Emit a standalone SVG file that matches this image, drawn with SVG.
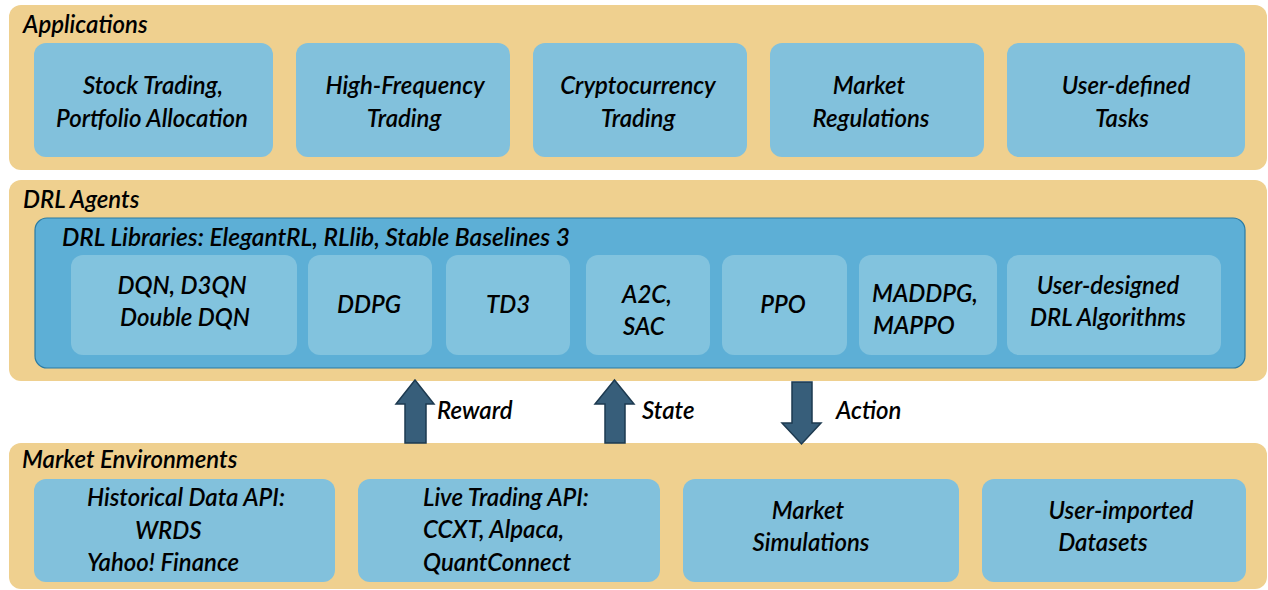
<svg xmlns="http://www.w3.org/2000/svg" width="1268" height="590" viewBox="0 0 1268 590">
<defs>
<style>
.panel{fill:#EFD08F;}
.box{fill:#82C1DC;}
.lib{fill:#5DAFD6;stroke:#2B7BA3;stroke-width:1.2;}
.alg{fill:#82C3DE;}
.arrow{fill:#375E7A;stroke:#1D3A50;stroke-width:1.5;stroke-linejoin:miter;}
text{font-family:Lato,"Noto Sans","Liberation Sans",sans-serif;font-style:italic;font-weight:600;font-size:24px;fill:#000;}
.c{text-anchor:middle;}
</style>
</defs>
<rect width="1268" height="590" fill="#fff"/>

<g id="applications">
<rect class="panel" x="9" y="5" width="1258" height="165" rx="12"/>
<text x="23" y="33">Applications</text>
</g>
<g id="app-stock">
<rect class="box" x="34" y="43" width="239" height="114" rx="12"/>
<text class="c" x="153" y="94">Stock Trading,</text>
<text class="c" x="152" y="127">Portfolio Allocation</text>
</g>
<g id="app-hft">
<rect class="box" x="296" y="43" width="214" height="114" rx="12"/>
<text class="c" x="405" y="94">High-Frequency</text>
<text class="c" x="404" y="127">Trading</text>
</g>
<g id="app-crypto">
<rect class="box" x="533" y="43" width="214" height="114" rx="12"/>
<text class="c" x="638" y="94">Cryptocurrency</text>
<text class="c" x="638" y="127">Trading</text>
</g>
<g id="app-reg">
<rect class="box" x="770" y="43" width="214" height="114" rx="12"/>
<text class="c" x="869" y="94">Market</text>
<text class="c" x="871" y="127">Regulations</text>
</g>
<g id="app-user">
<rect class="box" x="1007" y="43" width="238" height="114" rx="12"/>
<text class="c" x="1126" y="94">User-defined</text>
<text class="c" x="1122" y="127">Tasks</text>
</g>

<g id="drl-agents">
<rect class="panel" x="9" y="180" width="1258" height="201" rx="12"/>
<text x="23" y="208">DRL Agents</text>
</g>
<g id="drl-libraries">
<rect class="lib" x="35" y="218" width="1210" height="150" rx="12"/>
<text x="62" y="246" textLength="508" lengthAdjust="spacingAndGlyphs">DRL Libraries: ElegantRL, RLlib, Stable Baselines 3</text>
</g>
<g id="alg-dqn">
<rect class="alg" x="71" y="255" width="226" height="100" rx="12"/>
<text class="c" x="182" y="294">DQN, D3QN</text>
<text class="c" x="185" y="326">Double DQN</text>
</g>
<g id="alg-ddpg">
<rect class="alg" x="308" y="255" width="124" height="100" rx="12"/>
<text class="c" x="369" y="313">DDPG</text>
</g>
<g id="alg-td3">
<rect class="alg" x="446" y="255" width="124" height="100" rx="12"/>
<text class="c" x="508" y="313">TD3</text>
</g>
<g id="alg-a2c">
<rect class="alg" x="586" y="255" width="124" height="100" rx="12"/>
<text x="622" y="303">A2C,</text>
<text x="623" y="335">SAC</text>
</g>
<g id="alg-ppo">
<rect class="alg" x="722" y="255" width="125" height="100" rx="12"/>
<text class="c" x="783" y="313">PPO</text>
</g>
<g id="alg-ma">
<rect class="alg" x="859" y="255" width="138" height="100" rx="12"/>
<text x="872" y="302">MADDPG,</text>
<text x="873" y="334">MAPPO</text>
</g>
<g id="alg-user">
<rect class="alg" x="1007" y="255" width="214" height="100" rx="12"/>
<text class="c" x="1108" y="294">User-designed</text>
<text class="c" x="1108" y="326">DRL Algorithms</text>
</g>

<g id="market-environments">
<rect class="panel" x="9" y="443" width="1258" height="146" rx="12"/>
<text x="22" y="468">Market Environments</text>
</g>
<g id="env-hist">
<rect class="box" x="34" y="479" width="301" height="103" rx="12"/>
<text x="87" y="506">Historical Data API:</text>
<text x="135" y="539">WRDS</text>
<text x="87" y="571">Yahoo! Finance</text>
</g>
<g id="env-live">
<rect class="box" x="358" y="479" width="302" height="103" rx="12"/>
<text x="423" y="506">Live Trading API:</text>
<text x="423" y="538">CCXT, Alpaca,</text>
<text x="423" y="571">QuantConnect</text>
</g>
<g id="env-sim">
<rect class="box" x="683" y="479" width="276" height="103" rx="12"/>
<text class="c" x="808" y="519">Market</text>
<text class="c" x="811" y="551">Simulations</text>
</g>
<g id="env-user">
<rect class="box" x="982" y="479" width="264" height="103" rx="12"/>
<text class="c" x="1121" y="519">User-imported</text>
<text class="c" x="1103" y="551">Datasets</text>
</g>

<g id="connectors">
<polygon class="arrow" points="415,380 434,404 426,404 426,443 405,443 405,404 396,404"/>
<polygon class="arrow" points="614.5,380 634,404 625,404 625,443 605,443 605,404 595,404"/>
<polygon class="arrow" points="792,382 812,382 812,423 821,423 801.5,444 782,423 792,423"/>
<text x="437" y="419">Reward</text>
<text x="642" y="419">State</text>
<text x="836" y="419">Action</text>
</g>
</svg>
